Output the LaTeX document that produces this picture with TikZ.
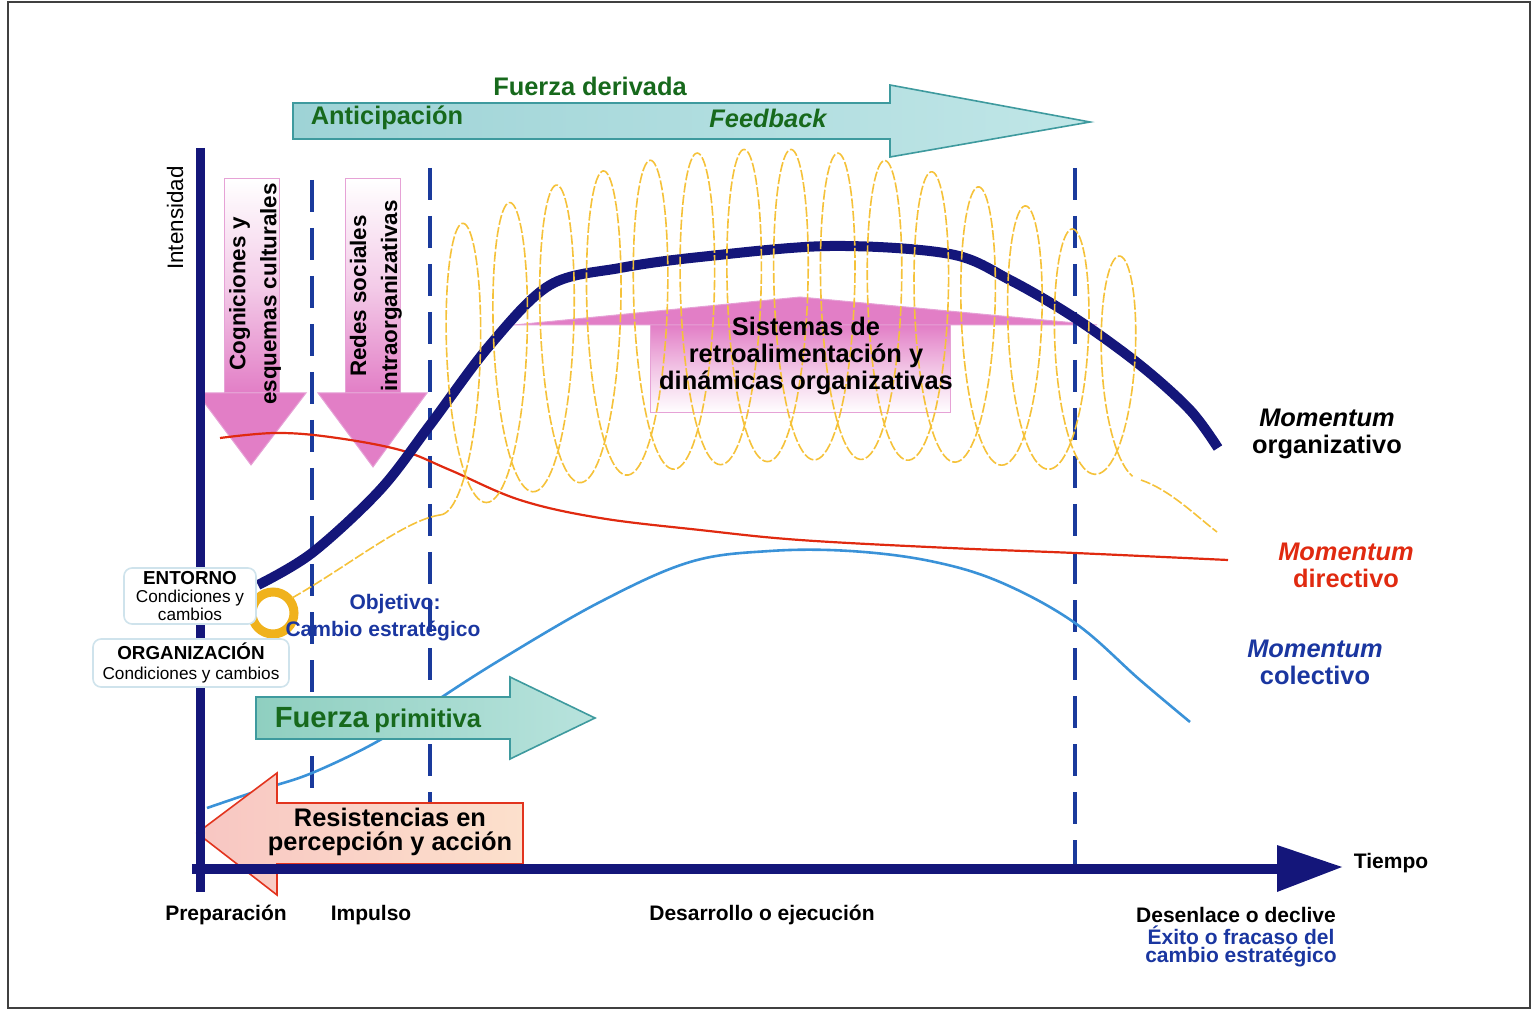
\documentclass[tikz,border=0pt]{standalone}
\usepackage{fontspec}
\setmainfont{Liberation Sans}
\definecolor{navy}{HTML}{14167A}
\definecolor{dashblue}{HTML}{1A3A9C}
\definecolor{curvered}{HTML}{E02A10}
\definecolor{curveblue}{HTML}{3A92D8}
\definecolor{coilgold}{HTML}{F5C23A}
\definecolor{ringgold}{HTML}{F0B21C}
\definecolor{darkgreen}{HTML}{17691C}
\definecolor{textblue}{HTML}{1A36A0}
\definecolor{cyanleft}{HTML}{9ED3D6}
\definecolor{cyanright}{HTML}{C0E6E7}
\definecolor{cyanedge}{HTML}{3E9A9E}
\definecolor{tealleft}{HTML}{8FCFC0}
\definecolor{tealright}{HTML}{B8E3DD}
\definecolor{pinkfill}{HTML}{E27EC6}
\definecolor{pinkedge}{HTML}{E6A2D6}
\definecolor{salmonleft}{HTML}{F8C6C2}
\definecolor{salmonright}{HTML}{FCE0CC}
\definecolor{arrowred}{HTML}{E2341E}
\definecolor{boxedge}{HTML}{CFE3EC}
\begin{document}
\begin{tikzpicture}[x=0.5pt,y=-0.5pt,
  big/.style={font=\bfseries\fontsize{12.7}{13.5}\selectfont, align=center, inner sep=0pt},
  phaselbl/.style={font=\bfseries\fontsize{10.5}{9}\selectfont, align=center, inner sep=0pt},
  vertlbl/.style={font=\bfseries\fontsize{11.2}{15.5}\selectfont, align=center, inner sep=0pt, rotate=90},
  phase/.style={draw=dashblue, line width=2pt, dash pattern=on 16pt off 8pt},
  coil/.style={draw=coilgold, line width=0.8pt, dash pattern=on 5pt off 1.2pt},
  infobox/.style={draw=boxedge, line width=0.8pt, fill=white, rounded corners=4pt, align=center, inner sep=0pt},
  pinkbody/.style={top color=white, bottom color=pinkfill, middle color=pinkfill!40, draw=pinkedge, line width=0.5pt},
  pinkhead/.style={fill=pinkfill, draw=pinkedge, line width=0.5pt},
]
\useasboundingbox (0,0) rectangle (1532,1010);
\draw[black!75, line width=0.7pt] (8,2) rectangle (1530,1008);

% upper arrow: derived force
\path[draw=cyanedge, line width=0.8pt, left color=cyanleft, right color=cyanright]
  (293,103) -- (890,103) -- (890,85) -- (1090,122) -- (890,157) -- (890,139) -- (293,139) -- cycle;

% downward pink arrows
\path[pinkbody] (224,179) rectangle (279,393);
\path[pinkhead] (197,393) -- (306,393) -- (251,465) -- cycle;
\path[pinkbody] (345,179) rectangle (400,393);
\path[pinkhead] (318,393) -- (427,393) -- (373,467) -- cycle;

% feedback systems shape
\path[top color=pinkfill, bottom color=white, middle color=pinkfill!45, draw=pinkedge, line width=0.5pt]
  (650,325) rectangle (950,413);
\path[fill=pinkfill, draw=pinkedge, line width=0.5pt]
  (514,325) -- (800,297) -- (1097,325) -- cycle;

% phase boundaries
\draw[phase] (312,180) -- (312,872);
\draw[phase] (430,168) -- (430,866);
\draw[phase] (1075,168) -- (1075,866);

% collective momentum
\draw[curveblue, line width=1.3pt] plot[smooth, tension=0.6] coordinates {
  (207,808) (260,790) (312,773) (380,740) (430,705) (500,660) (600,602)
  (690,562) (770,551) (850,551) (930,561) (1000,582) (1075,623) (1140,680) (1190,722)};

% primitive force
\path[draw=cyanedge, line width=0.8pt, left color=tealleft, right color=tealright]
  (256,697) -- (510,697) -- (510,677) -- (595,718) -- (510,759) -- (510,739) -- (256,739) -- cycle;

% resistances
\path[draw=arrowred, line width=0.8pt, left color=salmonleft, right color=salmonright]
  (523,803) -- (277,803) -- (277,773) -- (197,833) -- (277,895) -- (277,864) -- (523,864) -- cycle;

% directive momentum
\draw[curvered, line width=1.1pt] plot[smooth, tension=0.6] coordinates {
  (220,438) (275,433) (330,437) (400,450) (450,470) (520,500) (600,518)
  (700,530) (800,540) (950,548) (1075,553) (1228,560)};

% organisational momentum
\draw[navy, line width=5pt] plot[smooth, tension=0.55] coordinates {
  (258,585) (312,553) (380,490) (430,425) (490,345) (550,285) (620,268)
  (700,257) (830,246) (950,254) (1010,280) (1075,318) (1140,365) (1190,410) (1218,448)};

% feedback coil
\draw[ringgold, line width=4.5pt] (273,613) circle[radius=21];
\draw[coil] (292,598) .. controls (350,565) and (405,520) .. (440,515);
\draw[coil] plot[domain=0:94, samples=1200, variable=\t]
  ({440+7.447*\t+28*sin(\t r)},
   {305+70*(\t/47-1)*(\t/47-1)+(160-20*(\t/47-1)*(\t/47-1)-35*(\t/94)*(\t/94)*(\t/94))*cos(\t r)});
\draw[coil] (1141,480) .. controls (1170,490) and (1195,515) .. (1217,532);

% axes
\coordinate (ytop) at (200,148);
\coordinate (ybot) at (200,892);
\coordinate (xleft) at (192,869);
\coordinate (xright) at (1282,869);
\draw[navy, line width=4.5pt] (ytop) -- (ybot);
\draw[navy, line width=5pt] (xleft) -- (xright);
\fill[navy] (1277,845) -- (1342,867) -- (1277,892) -- cycle;

% context boxes
\node[infobox, minimum width=66pt, minimum height=28pt, font=\fontsize{8.6}{8.8}\selectfont] (entorno) at (190,596)
  {{\bfseries\fontsize{9.4}{8.8}\selectfont ENTORNO}\\Condiciones y\\cambios};
\node[infobox, minimum width=98pt, minimum height=24pt, font=\fontsize{8.6}{10}\selectfont] (organizacion) at (191,663)
  {{\bfseries\fontsize{9.4}{10}\selectfont ORGANIZACIÓN}\\Condiciones y cambios};

% labels
\node[big, text=darkgreen] (fderivada) at (590,86) {Fuerza derivada};
\node[big, text=darkgreen] (anticip) at (387,118) {Anticipación};
\node[big, text=darkgreen, font=\bfseries\itshape\fontsize{12.7}{13.5}\selectfont] (feedback) at (768,118) {Feedback};
\node[font=\fontsize{11.2}{13}\selectfont, rotate=90, inner sep=0pt] (intens) at (175,218) {Intensidad};
\node[vertlbl] (cogn) at (255,294) {Cogniciones y\\esquemas culturales};
\node[vertlbl] (redes) at (376,296) {Redes sociales\\intraorganizativas};
\node[big] (sistemas) at (806,356) {Sistemas de\\retroalimentación y\\dinámicas organizativas};
\node[big] (morg) at (1327,434) {\textit{Momentum}\\organizativo};
\node[big, text=curvered] (mdir) at (1346,565) {\textit{Momentum}\\directivo};
\node[big, text=textblue] (mcol) at (1315,662) {\textit{Momentum}\\colectivo};
\node[phaselbl, text=textblue] (objetivo) at (395,604) {Objetivo:};
\node[phaselbl, text=textblue] (cambio) at (383,631) {Cambio estratégico};
\node[inner sep=0pt, text=darkgreen, font=\bfseries] (fprim) at (378,720)
  {{\fontsize{14.6}{15}\selectfont Fuerza} {\fontsize{12.8}{15}\selectfont primitiva}};
\node[big, font=\bfseries\fontsize{12.7}{12.2}\selectfont] (resist) at (390,832) {Resistencias en\\percepción y acción};
\node[phaselbl] (tiempo) at (1391,863) {Tiempo};
\node[phaselbl] (prep) at (226,915) {Preparación};
\node[phaselbl] (impulso) at (371,915) {Impulso};
\node[phaselbl] (desarrollo) at (762,915) {Desarrollo o ejecución};
\node[phaselbl] (desenlace) at (1236,915) {Desenlace o declive};
\node[phaselbl, text=textblue] (exito) at (1241,946) {Éxito o fracaso del\\cambio estratégico};
\end{tikzpicture}
\end{document}
